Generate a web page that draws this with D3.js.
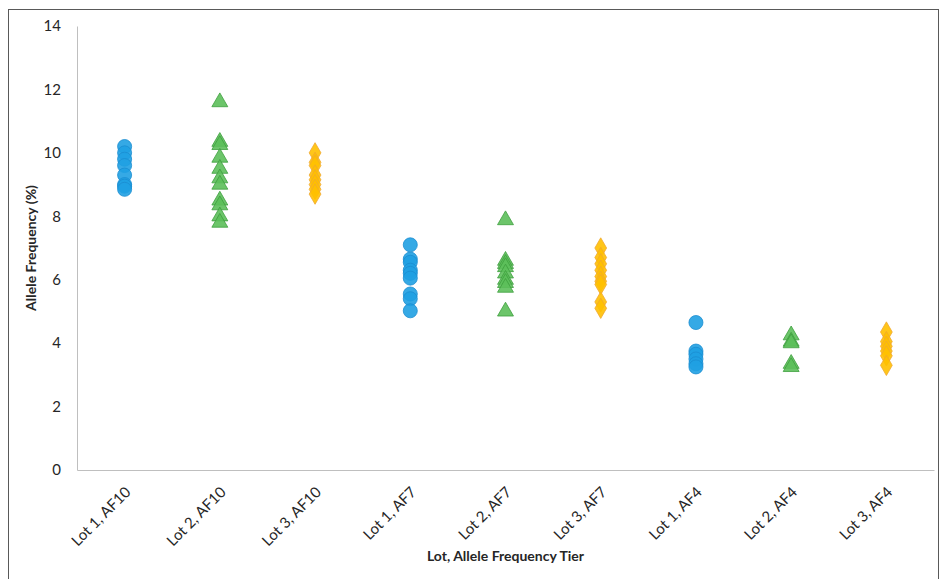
<!DOCTYPE html>
<html lang="en">
<head>
<meta charset="utf-8">
<title>Allele Frequency by Lot</title>
<script src="https://d3js.org/d3.v7.min.js"></script>
<style>
  body { margin: 0; background: #fff; }
  text { font-family: Lato, "Open Sans", sans-serif; fill: #262626; }
</style>
</head>
<body>
<div class="chart"></div>
<script>
// categories along x
const categories = ['Lot 1, AF10', 'Lot 2, AF10', 'Lot 3, AF10',
                    'Lot 1, AF7', 'Lot 2, AF7', 'Lot 3, AF7',
                    'Lot 1, AF4', 'Lot 2, AF4', 'Lot 3, AF4'];
const yTicks = [0, 2, 4, 6, 8, 10, 12, 14];

// measured allele frequencies (%) per category
const lot1AF10 = [10.2, 10.0, 9.8, 9.6, 9.3, 9.0, 8.95, 8.85];
const lot2AF10 = [11.6, 10.35, 10.25, 9.85, 9.5, 9.2, 9.0, 8.5, 8.35, 8.0, 7.8];
const lot3AF10 = [10.0, 9.7, 9.6, 9.3, 9.15, 9.0, 8.85, 8.7];
const lot1AF7 = [7.1, 6.65, 6.55, 6.3, 6.2, 6.05, 5.55, 5.4, 5.02];
const lot2AF7 = [7.88, 6.6, 6.5, 6.4, 6.2, 6.0, 5.9, 5.75, 5.0];
const lot3AF7 = [7.0, 6.7, 6.5, 6.3, 6.1, 5.95, 5.85, 5.3, 5.1];
const lot1AF4 = [4.65, 3.75, 3.65, 3.5, 3.35, 3.25];
const lot2AF4 = [4.25, 4.05, 4.0, 3.35, 3.25];
const lot3AF4 = [4.35, 4.05, 3.9, 3.75, 3.6, 3.3];

const groups = [lot1AF10, lot2AF10, lot3AF10, lot1AF7, lot2AF7, lot3AF7, lot1AF4, lot2AF4, lot3AF4];
const lotOf = [1, 2, 3, 1, 2, 3, 1, 2, 3];

const width = 941, height = 579;
const margin = {left: 77, right: 7, top: 26, bottom: 109};

const svg = d3.select('.chart').append('svg')
  .attr('width', width)
  .attr('height', height);

// outer frame
svg.append('rect')
  .attr('x', 8.5).attr('y', 9.5)
  .attr('width', 930).attr('height', 600)
  .attr('fill', 'none')
  .attr('stroke', '#595959')
  .attr('stroke-width', 1);

const x = d3.scaleBand()
  .domain(categories)
  .range([margin.left, width - margin.right]);

const y = d3.scaleLinear()
  .domain([0, 14])
  .range([height - margin.bottom, margin.top]);

// y axis
const yAxis = svg.append('g')
  .attr('transform', `translate(${margin.left},0)`)
  .call(d3.axisLeft(y).tickValues(yTicks).tickSize(0).tickPadding(16));
yAxis.select('.domain').attr('stroke', '#bfbfbf');
yAxis.selectAll('text').style('font-size', '15px').attr('fill', '#262626');

// x axis
const xAxis = svg.append('g')
  .attr('transform', `translate(0,${y(0)})`)
  .call(d3.axisBottom(x).tickSize(0));
xAxis.select('.domain').attr('stroke', '#bfbfbf');
xAxis.selectAll('text')
  .style('font-size', '15px')
  .attr('fill', '#262626')
  .attr('text-anchor', 'end')
  .attr('x', 0).attr('y', 0).attr('dy', 0)
  .attr('transform', 'translate(7,23) rotate(-45)');

// titles
svg.append('text')
  .attr('transform', `translate(36,${(y(0) + y(14)) / 2}) rotate(-90)`)
  .attr('text-anchor', 'middle')
  .style('font-size', '14px')
  .style('font-weight', 'bold')
  .text('Allele Frequency (%)');

svg.append('text')
  .attr('x', (margin.left + width - margin.right) / 2)
  .attr('y', 561)
  .attr('text-anchor', 'middle')
  .style('font-size', '14px')
  .style('font-weight', 'bold')
  .text('Lot, Allele Frequency Tier');

// marker styles per lot
const styles = {
  1: {type: d3.symbolCircle, size: 155, fill: '#1fa0e2', stroke: '#1a8dd0'},
  2: {type: d3.symbolTriangle, size: 110, fill: '#5cbf5a', stroke: '#3d9e3d'},
  3: {type: d3.symbolDiamond, size: 120, fill: '#ffc000', stroke: '#f0a830'}
};

const points = [];
groups.forEach((vals, i) => {
  vals.forEach(v => points.push({cat: categories[i], lot: lotOf[i], value: v}));
});

svg.append('g')
  .selectAll('path')
  .data(points)
  .enter()
  .append('path')
  .attr('transform', d => `translate(${x(d.cat) + x.bandwidth() / 2},${y(d.value)})`)
  .attr('d', d => d3.symbol().type(styles[d.lot].type).size(styles[d.lot].size)())
  .attr('fill', d => styles[d.lot].fill)
  .attr('fill-opacity', 0.9)
  .attr('stroke', d => styles[d.lot].stroke)
  .attr('stroke-width', 0.8);
</script>
</body>
</html>
